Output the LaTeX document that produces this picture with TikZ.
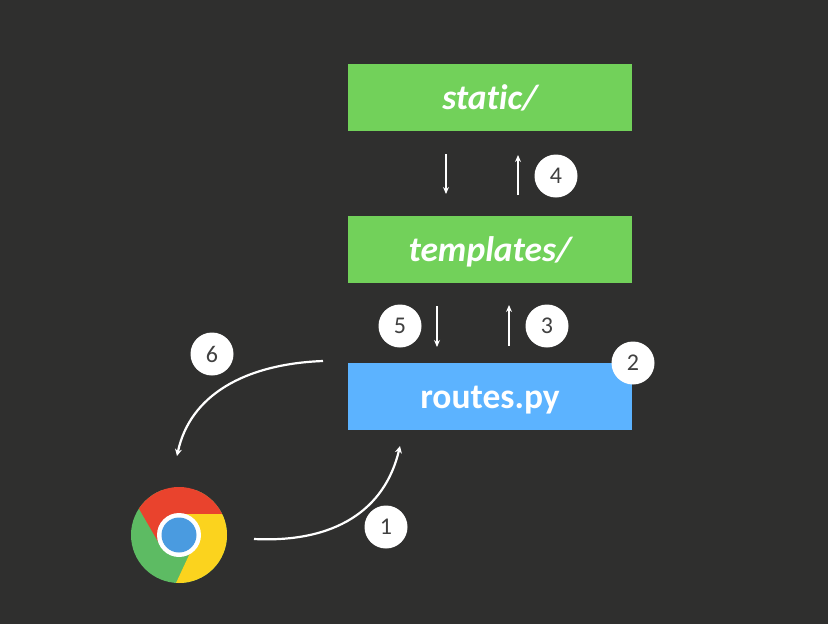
\documentclass[tikz,border=0pt]{standalone}
\usepackage{fontspec}
\setmainfont{Carlito}[Ligatures=NoCommon]
\usetikzlibrary{arrows.meta}
\definecolor{bgc}{HTML}{2F2F2E}
\definecolor{greenbox}{HTML}{72D15A}
\definecolor{bluebox}{HTML}{5CB3FF}
\definecolor{chred}{HTML}{E9432D}
\definecolor{chgreen}{HTML}{5DBB63}
\definecolor{chyellow}{HTML}{FBD31E}
\definecolor{chblue}{HTML}{4A9BE0}
\definecolor{numtxt}{HTML}{404040}
\newcommand{\boxtext}[1]{\raisebox{-11.5pt}[0pt][0pt]{#1}}
\tikzset{
  x=1pt,y=-1pt,
  boxbase/.style={minimum width=284pt,inner sep=0pt,text=white,font=\fontsize{35.5}{38}\selectfont\bfseries},
  greenb/.style={boxbase,fill=greenbox,minimum height=67pt,font=\fontsize{35.5}{38}\selectfont\bfseries\itshape},
  blueb/.style={boxbase,fill=bluebox,minimum height=67pt},
  numc/.style={circle,fill=white,minimum size=43pt,inner sep=0pt,text=numtxt,font=\fontsize{24}{26}\selectfont},
  conn/.style={draw=white,line width=1.8pt,-{Stealth[length=7pt,width=6pt]}},
  curve/.style={draw=white,line width=2.2pt,-{Stealth[length=7pt,width=7pt]}}
}
\begin{document}
\begin{tikzpicture}
\useasboundingbox (0,0) rectangle (828,624);
\fill[bgc] (0,0) rectangle (828,624);
\node[greenb] (static) at (490,97.5) {\boxtext{static/}};
\node[greenb] (templates) at (490,249.5) {\boxtext{templates/}};
\node[blueb] (routes) at (490,396.5) {\boxtext{routes.py}};
% chrome logo
\begin{scope}
\clip (179,535) circle (48);
\fill[chgreen] (125,490) rectangle (235,590);
\fill[chred] (138,507) -- (160,545) -- (179,514) -- (223,514) -- (235,480) -- (130,480) -- cycle;
\fill[chyellow] (223,514) -- (179,514) -- (195,530) -- (190,553) -- (176,583) -- (230,590) -- (235,514) -- cycle;
\end{scope}
\node[circle,fill=white,minimum size=44pt,inner sep=0pt] (chromering) at (179,535) {};
\node[circle,fill=chblue,minimum size=35pt,inner sep=0pt] (chrome) at (179,535) {};
% named free ends
\coordinate (a1) at (446,154); \coordinate (a2) at (446,194);
\coordinate (b1) at (518,195); \coordinate (b2) at (518,155);
\coordinate (c1) at (437,306); \coordinate (c2) at (437,347);
\coordinate (d1) at (509,346); \coordinate (d2) at (509,305);
\coordinate (e1) at (323,361); \coordinate (e2) at (177,456);
\coordinate (f1) at (254,539); \coordinate (f2) at (400,446);
\draw[conn] (a1) -- (a2);
\draw[conn] (b1) -- (b2);
\draw[conn] (c1) -- (c2);
\draw[conn] (d1) -- (d2);
\draw[curve] (e1) .. controls (245,364) and (190,395) .. (e2);
\draw[curve] (f1) .. controls (335,543) and (385,510) .. (f2);
\node[numc] (n4) at (556,176) {4};
\node[numc] (n5) at (400,326) {5};
\node[numc] (n3) at (547,326) {3};
\node[numc] (n2) at (633,363) {2};
\node[numc] (n6) at (212,354) {6};
\node[numc] (n1) at (386,527) {1};
\end{tikzpicture}
\end{document}
